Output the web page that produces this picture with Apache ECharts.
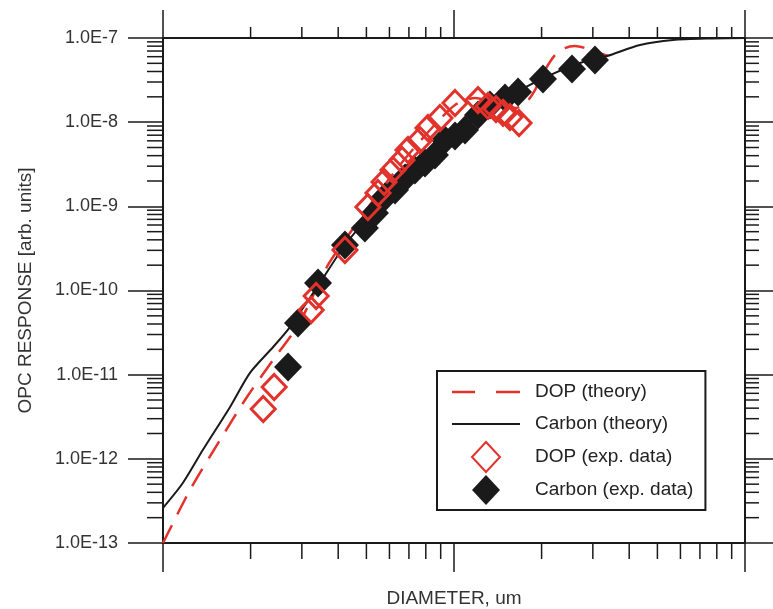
<!DOCTYPE html>
<html><head><meta charset="utf-8">
<script src="https://cdn.jsdelivr.net/npm/echarts@6/dist/echarts.min.js"></script>
<style>html,body{margin:0;padding:0;background:#fff}#c{width:773px;height:609px}</style>
</head><body><div id="c"></div>
<script>
// ---- data ----
const carbonTheoryX = [0.1, 0.117, 0.137, 0.170, 0.199, 0.239, 0.273, 0.346, 0.422, 0.514, 0.652, 0.827, 1.048, 1.329, 1.686, 2.138, 2.710, 3.357, 4.357, 5.656, 7.58, 10];
const carbonTheoryY = [2.61e-13, 5.16e-13, 1.27e-12, 4.13e-12, 1.05e-11, 2.13e-11, 3.68e-11, 1.23e-10, 3.47e-10, 7.88e-10, 1.89e-9, 4.07e-9, 8.07e-9, 1.47e-8, 2.41e-8, 3.63e-8, 5.05e-8, 6.11e-8, 8.26e-8, 9.47e-8, 9.87e-8, 1.0e-7];

const dopTheoryX = [0.1, 0.1238, 0.157, 0.1943, 0.2388, 0.2887, 0.320, 0.369, 0.422, 0.514, 0.652, 0.827, 1.008, 1.181, 1.383, 1.621, 1.754, 1.898, 2.055, 2.224, 2.406, 2.605, 2.819, 3.099, 3.383];
const dopTheoryY = [1e-13, 4.26e-13, 1.67e-12, 5.43e-12, 1.49e-11, 3.68e-11, 7.29e-11, 2.01e-10, 3.98e-10, 1.04e-9, 3.10e-9, 8.07e-9, 1.60e-8, 1.94e-8, 1.73e-8, 1.47e-8, 1.64e-8, 2.41e-8, 4.17e-8, 6.28e-8, 7.60e-8, 8.04e-8, 7.60e-8, 6.81e-8, 6.11e-8];

const dopExpX = [0.221, 0.241, 0.323, 0.336, 0.422, 0.506, 0.548, 0.575, 0.617, 0.663, 0.695, 0.764, 0.814, 0.895, 1.008, 1.209, 1.309, 1.394, 1.474, 1.557, 1.673];
const dopExpY = [3.91e-12, 7.13e-12, 5.86e-11, 8.61e-11, 3.03e-10, 9.82e-10, 1.44e-9, 1.95e-9, 2.70e-9, 3.55e-9, 4.67e-9, 6.14e-9, 8.53e-9, 1.12e-8, 1.69e-8, 1.83e-8, 1.56e-8, 1.43e-8, 1.29e-8, 1.15e-8, 9.78e-9];

const carbonExpX = [0.269, 0.291, 0.341, 0.422, 0.494, 0.535, 0.579, 0.627, 0.679, 0.734, 0.795, 0.860, 0.931, 1.008, 1.091, 1.209, 1.329, 1.497, 1.660, 2.022, 2.544, 3.051];
const carbonExpY = [1.23e-11, 4.11e-11, 1.23e-10, 3.47e-10, 5.52e-10, 8.33e-10, 1.29e-9, 1.56e-9, 2.17e-9, 2.70e-9, 3.27e-9, 4.07e-9, 6.14e-9, 6.84e-9, 8.07e-9, 1.22e-8, 1.60e-8, 1.94e-8, 2.28e-8, 3.26e-8, 4.28e-8, 5.47e-8];

const yTickLabels = ['1.0E-13', '1.0E-12', '1.0E-11', '1.0E-10', '1.0E-9', '1.0E-8', '1.0E-7'];
const xMinorTicks = [0.2, 0.3, 0.4, 0.5, 0.6, 0.7, 0.8, 0.9, 2, 3, 4, 5, 6, 7, 8, 9];
const yMinorMantissas = [2, 3, 4, 5, 6, 7, 8, 9];
const yDecades = [-13, -12, -11, -10, -9, -8];

const X_MIN = 0.1, X_MAX = 10, Y_MIN = 1e-13, Y_MAX = 1e-7;
const FONT = '"Liberation Sans", Arial, Helvetica, sans-serif';
const INK = '#1a1a1a';
const RED = '#e2322b';

const yMinorTicks = [];
yDecades.forEach(e => yMinorMantissas.forEach(m => yMinorTicks.push(m * Math.pow(10, e))));

const pair = (xs, ys) => xs.map((x, i) => [x, ys[i]]);

function tickLine(x1, y1, x2, y2) {
  return { type: 'line', shape: { x1, y1, x2, y2 }, style: { stroke: INK, lineWidth: 1.5 } };
}

// legend icon shapes
const ICON_DASH = 'path://M0,0 H23 V2.5 H0 Z M44,0 H68 V2.5 H44 Z';
const ICON_SOLID = 'path://M0,0 H68 V2 H0 Z';
const ICON_DIAMOND = 'path://M14,0 L28,15 L14,30 L0,15 Z';

const chart = echarts.init(document.getElementById('c'), null, { renderer: 'canvas' });
chart.setOption({
  animation: false,
  backgroundColor: '#fff',
  grid: { left: 163, top: 38, width: 582, height: 505, containLabel: false, outerBoundsMode: 'none' },
  xAxis: [
    {
      type: 'log', logBase: 10, min: X_MIN, max: X_MAX, position: 'bottom',
      axisLine: { onZero: false, lineStyle: { color: INK, width: 2 } },
      axisTick: { show: true, inside: false, length: 29, lineStyle: { color: INK, width: 1.5 } },
      axisLabel: { show: false }, splitLine: { show: false },
      name: 'DIAMETER, um', nameLocation: 'middle', nameGap: 46,
      nameTextStyle: { fontSize: 19, color: '#333', fontFamily: FONT }
    },
    {
      type: 'log', logBase: 10, min: X_MIN, max: X_MAX, position: 'top',
      axisLine: { onZero: false, lineStyle: { color: INK, width: 2 } },
      axisTick: { show: true, inside: false, length: 28, lineStyle: { color: INK, width: 1.5 } },
      axisLabel: { show: false }, splitLine: { show: false }
    }
  ],
  yAxis: [
    {
      type: 'log', logBase: 10, min: Y_MIN, max: Y_MAX, position: 'left',
      axisLine: { onZero: false, lineStyle: { color: INK, width: 2 } },
      axisTick: { show: true, inside: false, length: 35, lineStyle: { color: INK, width: 1.5 } },
      axisLabel: {
        margin: 45, fontSize: 18, color: '#333', fontFamily: FONT,
        formatter: v => yTickLabels[Math.round(Math.log10(v)) + 13]
      },
      splitLine: { show: false },
      name: 'OPC RESPONSE [arb. units]', nameLocation: 'middle', nameRotate: 90, nameGap: 128,
      nameTextStyle: { fontSize: 19, color: '#333', fontFamily: FONT }
    },
    {
      type: 'log', logBase: 10, min: Y_MIN, max: Y_MAX, position: 'right',
      axisLine: { onZero: false, lineStyle: { color: INK, width: 2 } },
      axisTick: { show: true, inside: false, length: 28, lineStyle: { color: INK, width: 1.5 } },
      axisLabel: { show: false }, splitLine: { show: false }
    }
  ],
  legend: {
    orient: 'vertical', left: 437, top: 371,
    itemWidth: 68, itemHeight: 30, itemGap: 2,
    padding: [6, 12, 5, 15],
    symbolKeepAspect: true,
    borderColor: INK, borderWidth: 2, backgroundColor: '#fff',
    textStyle: { fontSize: 19, lineHeight: 30, color: '#222', fontFamily: FONT, padding: [0, 0, 0, 10] },
    data: [
      { name: 'DOP (theory)', icon: ICON_DASH, itemStyle: { color: RED, borderWidth: 0 } },
      { name: 'Carbon (theory)', icon: ICON_SOLID, itemStyle: { color: INK, borderWidth: 0 } },
      { name: 'DOP (exp. data)', icon: ICON_DIAMOND },
      { name: 'Carbon (exp. data)', icon: ICON_DIAMOND }
    ]
  },
  series: [
    {
      type: 'custom', name: 'xminor', silent: true, clip: false, z: 1,
      xAxisIndex: 0, yAxisIndex: 0,
      data: xMinorTicks.map(v => [v, Y_MIN]),
      renderItem: (params, api) => {
        const b = api.coord([api.value(0), Y_MIN]);
        const t = api.coord([api.value(0), Y_MAX]);
        return { type: 'group', children: [tickLine(b[0], b[1], b[0], b[1] + 16), tickLine(t[0], t[1], t[0], t[1] - 11)] };
      }
    },
    {
      type: 'custom', name: 'yminor', silent: true, clip: false, z: 1,
      xAxisIndex: 0, yAxisIndex: 0,
      data: yMinorTicks.map(v => [X_MIN, v]),
      renderItem: (params, api) => {
        const l = api.coord([X_MIN, api.value(1)]);
        const r = api.coord([X_MAX, api.value(1)]);
        return { type: 'group', children: [tickLine(l[0], l[1], l[0] - 16, l[1]), tickLine(r[0], r[1], r[0] + 14, r[1])] };
      }
    },
    {
      type: 'line', name: 'DOP (theory)', data: pair(dopTheoryX, dopTheoryY),
      symbol: 'none', showSymbol: false, smooth: 0.25, z: 2,
      lineStyle: { color: RED, width: 2.5, type: [20, 12] }, itemStyle: { color: RED }
    },
    {
      type: 'line', name: 'Carbon (theory)', data: pair(carbonTheoryX, carbonTheoryY),
      symbol: 'none', showSymbol: false, smooth: 0.25, z: 2,
      lineStyle: { color: INK, width: 2 }, itemStyle: { color: INK }
    },
    {
      type: 'scatter', name: 'Carbon (exp. data)', data: pair(carbonExpX, carbonExpY),
      symbol: 'diamond', symbolSize: [28, 29], z: 3,
      itemStyle: { color: INK, opacity: 1 }
    },
    {
      type: 'scatter', name: 'DOP (exp. data)', data: pair(dopExpX, dopExpY),
      symbol: 'diamond', symbolSize: [24, 25], z: 4,
      itemStyle: { color: 'rgba(0,0,0,0)', borderColor: RED, borderWidth: 3, opacity: 1 }
    }
  ]
});
</script></body></html>
